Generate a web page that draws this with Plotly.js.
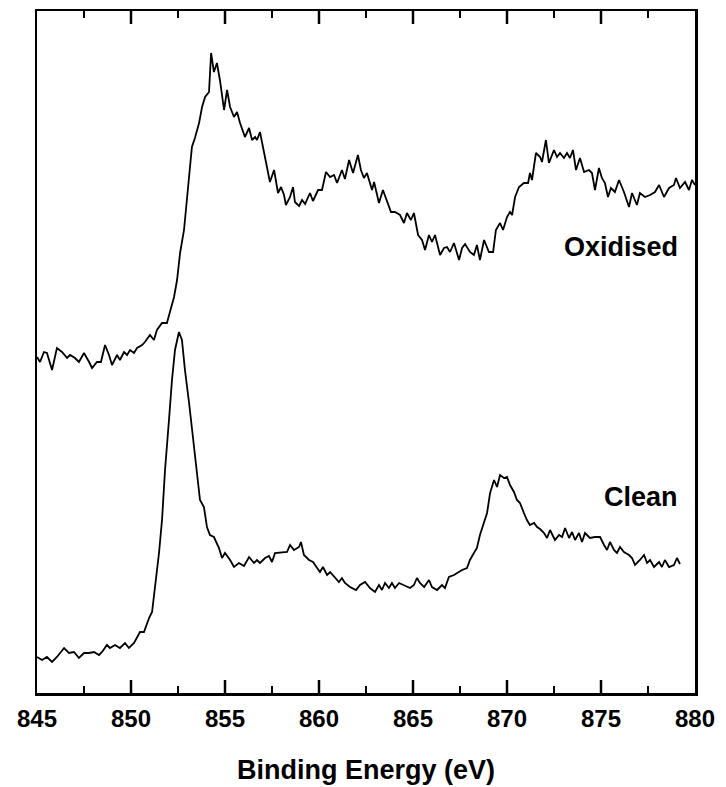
<!DOCTYPE html>
<html>
<head>
<meta charset="utf-8">
<script src="https://cdn.plot.ly/plotly-3.0.1.min.js"></script>
<style>html,body{margin:0;padding:0;background:#fff;}#chart{width:726px;height:787px;}</style>
</head>
<body>
<div id="chart"></div>
<script>
// Binding energy (eV) and intensity (a.u.)
const oxidisedEnergy = [
845.00,845.16,845.37,845.53,845.80,846.06,846.33,846.60,846.76,847.02,
847.23,847.50,847.77,847.93,848.19,848.40,848.62,848.83,848.99,849.26,
849.41,849.63,849.79,849.95,850.16,850.32,850.59,850.74,851.01,851.22,
851.38,851.65,851.91,852.07,852.29,852.45,852.61,852.82,852.98,853.14,
853.24,853.40,853.62,853.78,853.94,854.15,854.26,854.41,854.57,854.73,
854.95,855.11,855.27,855.48,855.64,855.80,856.06,856.28,856.44,856.60,
856.70,856.86,857.13,857.39,857.61,857.82,857.98,858.14,858.24,858.46,
858.62,858.72,858.94,859.10,859.26,859.52,859.68,859.95,860.16,860.37,
860.59,860.80,860.96,861.22,861.38,861.60,861.81,862.07,862.23,862.39,
862.55,862.82,862.93,863.19,863.40,863.67,863.83,864.04,864.31,864.52,
864.68,864.89,865.05,865.27,865.48,865.64,865.85,866.01,866.17,866.44,
866.65,866.81,866.97,867.18,867.45,867.61,867.77,868.03,868.24,868.40,
868.56,868.78,869.04,869.26,869.41,869.63,869.79,870.00,870.16,870.27,
870.43,870.64,870.90,871.12,871.22,871.33,871.54,871.76,871.86,872.07,
872.23,872.50,872.66,872.82,873.03,873.19,873.35,873.51,873.67,873.88,
874.10,874.36,874.52,874.68,874.89,875.05,875.21,875.37,875.53,875.74,
875.96,876.22,876.49,876.65,876.91,877.07,877.34,877.61,877.87,878.09,
878.35,878.62,878.88,878.99,879.20,879.47,879.68,879.84,880.00
];
const oxidisedIntensity = [
336,331,341,340,323,345,341,335,338,335,
331,340,331,325,331,331,348,338,328,338,
333,341,338,343,340,345,348,351,358,353,
363,370,370,380,396,413,440,463,493,520,
546,555,570,586,596,601,640,621,630,613,
583,603,586,576,581,570,556,565,553,556,
553,561,536,511,523,500,506,498,488,496,
506,491,487,493,489,500,492,503,503,521,
516,518,510,523,514,533,520,538,523,515,
520,503,511,490,503,490,481,481,478,470,
480,473,480,458,453,443,458,451,458,438,
445,446,441,450,433,445,449,441,438,448,
433,453,441,441,463,470,463,476,481,478,
496,506,510,510,520,513,540,536,531,553,
530,543,536,540,535,540,535,543,523,535,
521,523,520,503,525,515,510,496,505,501,
513,501,486,500,488,500,496,498,501,508,
496,505,508,515,505,511,503,513,508
];
const cleanEnergy = [
845.00,845.27,845.53,845.80,846.06,846.44,846.70,846.97,847.23,847.50,
847.77,848.03,848.30,848.46,848.72,848.88,849.15,849.41,849.68,849.89,
850.16,850.32,850.48,850.69,850.96,851.12,851.28,851.49,851.65,851.81,
852.02,852.18,852.34,852.55,852.71,852.87,853.09,853.24,853.40,853.62,
853.67,853.88,854.04,854.20,854.41,854.68,854.84,855.00,855.27,855.48,
855.74,856.01,856.28,856.54,856.70,856.86,857.13,857.34,857.50,857.66,
858.03,858.30,858.46,858.67,858.94,859.04,859.20,859.47,859.68,859.89,
860.05,860.21,860.43,860.59,860.85,861.06,861.22,861.38,861.65,861.97,
862.18,862.45,862.71,862.98,863.19,863.35,863.51,863.72,863.88,864.04,
864.26,864.52,864.84,865.05,865.21,865.37,865.59,865.85,866.01,866.28,
866.54,866.70,866.91,867.18,867.34,867.61,867.87,868.03,868.24,868.40,
868.56,868.78,868.94,869.10,869.31,869.47,869.63,869.84,870.00,870.16,
870.37,870.53,870.69,870.90,871.06,871.22,871.44,871.60,871.76,871.97,
872.13,872.29,872.55,872.77,872.93,873.09,873.30,873.46,873.62,873.83,
873.99,874.15,874.41,874.68,874.95,875.16,875.32,875.48,875.69,875.85,
876.01,876.22,876.49,876.65,876.81,877.07,877.29,877.45,877.61,877.82,
878.09,878.24,878.40,878.62,878.88,879.04,879.20
];
const cleanIntensity = [
36,33,36,31,36,45,40,41,35,40,
40,41,38,41,48,45,48,45,50,45,
50,55,61,61,75,81,106,140,173,223,
273,313,343,361,353,323,290,266,240,206,
193,186,166,158,156,145,135,140,133,126,
130,127,136,130,133,130,135,137,131,140,
141,141,148,143,146,151,138,133,131,126,
121,126,118,121,116,111,115,110,106,103,
108,111,105,101,108,103,110,105,110,105,
110,108,105,108,115,110,106,113,106,103,
108,105,116,118,120,123,125,133,140,145,
158,171,180,200,213,206,218,215,216,208,
201,193,190,180,173,168,170,166,164,160,
155,163,153,158,156,165,155,161,153,160,
151,160,155,156,156,148,143,151,143,140,
146,141,138,135,128,133,138,130,133,126,
131,126,133,126,128,135,129
];
const majorTicks = [850, 855, 860, 865, 870, 875];
const minorTicks = [847.5, 852.5, 857.5, 862.5, 867.5, 872.5, 877.5];
const xStart = 845, xEnd = 880, majorStep = 5, minorStep = 2.5;
const labelOxidised = "Oxidised";
const labelClean = "Clean";
const xTitle = "Binding Energy (eV)";

const traces = [
  {x: oxidisedEnergy, y: oxidisedIntensity, type:'scatter', mode:'lines', line:{color:'#000', width:1.8}, name: labelOxidised},
  {x: cleanEnergy, y: cleanIntensity, type:'scatter', mode:'lines', line:{color:'#000', width:1.8}, name: labelClean}
];
const plotHeightPx = 682;
const majLen = 13 / plotHeightPx, minLen = 7 / plotHeightPx;
const tickShapes = [];
function addTick(v, len, w) {
  tickShapes.push({type:'line', xref:'x', yref:'paper', x0:v, x1:v, y0:0, y1:len, line:{color:'#000', width:w}, layer:'above'});
  tickShapes.push({type:'line', xref:'x', yref:'paper', x0:v, x1:v, y0:1, y1:1 - len, line:{color:'#000', width:w}, layer:'above'});
}
majorTicks.forEach(v => addTick(v, majLen, 2.5));
minorTicks.forEach(v => addTick(v, minLen, 2));

const fontFam = 'Liberation Sans, Arial, sans-serif';
const layout = {
  width:726, height:787,
  margin:{l:37, r:31, t:11, b:94},
  showlegend:false,
  xaxis:{
    range:[xStart,xEnd], tickmode:'linear', tick0:xStart, dtick:majorStep,
    ticks:'inside', ticklen:13, tickwidth:2.5, tickcolor:'#000',
    minor:{dtick:minorStep, ticks:'inside', ticklen:7, tickwidth:2, tickcolor:'#000'},
    showline:true, linewidth:2.5, linecolor:'#000', mirror:'ticks',
    showgrid:false, zeroline:false,
    ticklabelstandoff:3,
    tickfont:{family:fontFam, size:24, color:'#000', weight:'bold'}
  },
  yaxis:{
    range:[0,682], showticklabels:false, ticks:'',
    showline:true, linewidth:2.5, linecolor:'#000', mirror:true,
    showgrid:false, zeroline:false
  },
  shapes: tickShapes,
  annotations:[
    {x:879.2, y:446, xref:'x', yref:'y', text:labelOxidised, showarrow:false, xanchor:'right', yanchor:'middle',
     font:{family:fontFam, size:27, color:'#000', weight:'bold'}},
    {x:879.2, y:196, xref:'x', yref:'y', text:labelClean, showarrow:false, xanchor:'right', yanchor:'middle',
     font:{family:fontFam, size:27, color:'#000', weight:'bold'}},
    {x:0.5, y:-0.113, xref:'paper', yref:'paper', text:xTitle, showarrow:false, xanchor:'center', yanchor:'middle',
     font:{family:fontFam, size:27, color:'#000', weight:'bold'}}
  ]
};
Plotly.newPlot('chart', traces, layout, {displayModeBar:false, staticPlot:true});
</script>
</body>
</html>
